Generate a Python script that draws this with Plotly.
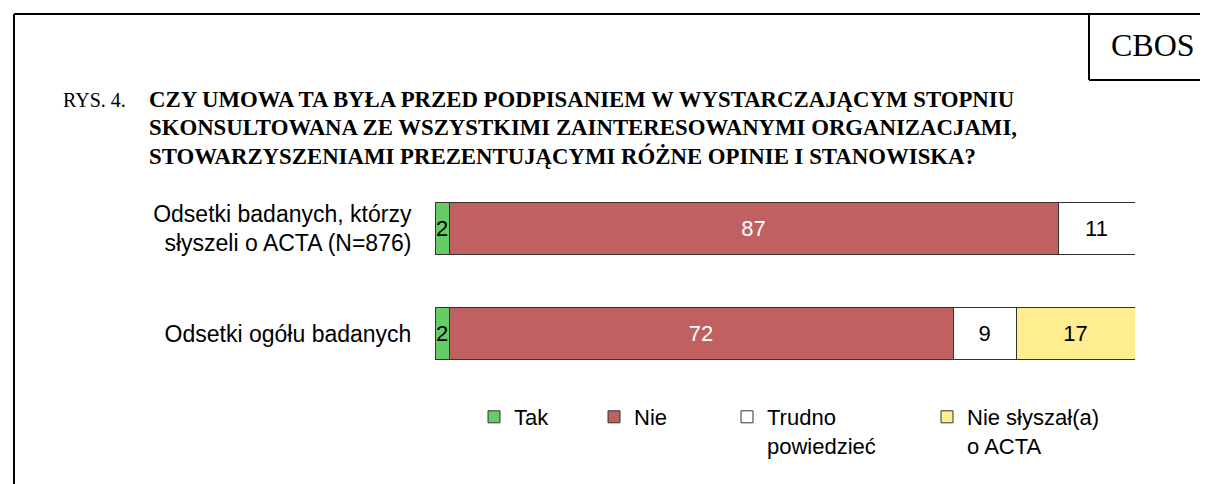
import plotly.graph_objects as go

categories = ["Odsetki badanych, którzy<br>słyszeli o ACTA (N=876)", "Odsetki ogółu badanych"]
series_names = ["Tak", "Nie", "Trudno<br>powiedzieć", "Nie słyszał(a)<br>o ACTA"]
tak = [2, 2]
nie = [87, 72]
trudno = [11, 9]
nie_slyszal = [None, 17]

colors = ["#66CC66", "#C06060", "#FFFFFF", "#FFEE90"]
text_colors = ["#000000", "#FFFFFF", "#000000", "#000000"]

OFF = 8  # default page body margin
W, H = 1208 - OFF, 484 - OFF
L, R, T, B = 427, 73, 168, 98
pw, ph = W - L - R, H - T - B

def px(x):  # window pixel -> paper x
    return (x - OFF - L) / pw

def py(y):  # window pixel -> paper y
    return (H - B - (y - OFF)) / ph

sans = "Liberation Sans, Arial"
serif = "Liberation Serif, Times New Roman"

fig = go.Figure()
values = [tak, nie, trudno, nie_slyszal]
legend_ids = ["legend", "legend2", "legend3", "legend4"]
for name, vals, col, tcol, lg in zip(series_names, values, colors, text_colors, legend_ids):
    fig.add_trace(go.Bar(
        y=categories, x=vals, name=name, orientation="h",
        marker=dict(color=col, line=dict(color="#333333", width=1)),
        text=[("" if v is None else str(v)) for v in vals],
        textposition="inside", insidetextanchor="middle", textangle=0,
        textfont=dict(family=sans, size=22, color=tcol),
        legend=lg, hoverinfo="skip",
    ))

legend_x = [474, 594, 727, 927]
leg_common = dict(orientation="h", yanchor="top", valign="top",
                  font=dict(family=sans, size=22, color="#000"),
                  bgcolor="rgba(0,0,0,0)", borderwidth=0, tracegroupgap=0)
layout_legends = {}
for lg, lx in zip(legend_ids, legend_x):
    layout_legends[lg] = dict(leg_common, x=px(lx), xanchor="left", y=py(396))

fig.update_layout(
    width=W, height=H,
    margin=dict(l=L, r=R, t=T, b=B, pad=0),
    paper_bgcolor="white", plot_bgcolor="white",
    barmode="stack", bargap=0.5,
    showlegend=True,
    uniformtext=dict(minsize=22, mode="show"),
    xaxis=dict(range=[0, 100], visible=False, fixedrange=True),
    yaxis=dict(categoryorder="array", categoryarray=categories, range=[1.5, -0.5],
               showgrid=False, showline=False, zeroline=False,
               ticks="outside", ticklen=18, tickcolor="white",
               tickfont=dict(family=sans, size=23, color="#000")),
    **layout_legends,
)

line = dict(color="black", width=2)
shapes = [
    dict(type="line", x0=px(14), x1=px(1220), y0=py(14), y1=py(14), line=line),
    dict(type="line", x0=px(14), x1=px(14), y0=py(14), y1=py(490), line=line),
    dict(type="line", x0=px(1089), x1=px(1089), y0=py(14), y1=py(80), line=line),
    dict(type="line", x0=px(1089), x1=px(1220), y0=py(80), y1=py(80), line=line),
]
for s in shapes:
    s.update(xref="paper", yref="paper")
fig.update_layout(shapes=shapes)

title_lines = [
    "CZY UMOWA TA BYŁA PRZED PODPISANIEM W WYSTARCZAJĄCYM STOPNIU",
    "SKONSULTOWANA ZE WSZYSTKIMI ZAINTERESOWANYMI ORGANIZACJAMI,",
    "STOWARZYSZENIAMI PREZENTUJĄCYMI RÓŻNE OPINIE I STANOWISKA?",
]
ann = [
    dict(text="CBOS", x=px(1153), y=py(45), xanchor="center", yanchor="middle",
         font=dict(family=serif, size=32, color="#000")),
    dict(text="RYS. 4.", x=px(61), y=py(100), xanchor="left", yanchor="middle",
         font=dict(family=serif, size=20, color="#000")),
]
for i, t in enumerate(title_lines):
    ann.append(dict(text="<b>" + t + "</b>", x=px(147), y=py(100 + 28 * i), xanchor="left", yanchor="middle",
                    font=dict(family=serif, size=22.8, color="#000")))
for a in ann:
    a.update(xref="paper", yref="paper", showarrow=False)
fig.update_layout(annotations=ann)

fig.write_html("out.html")
